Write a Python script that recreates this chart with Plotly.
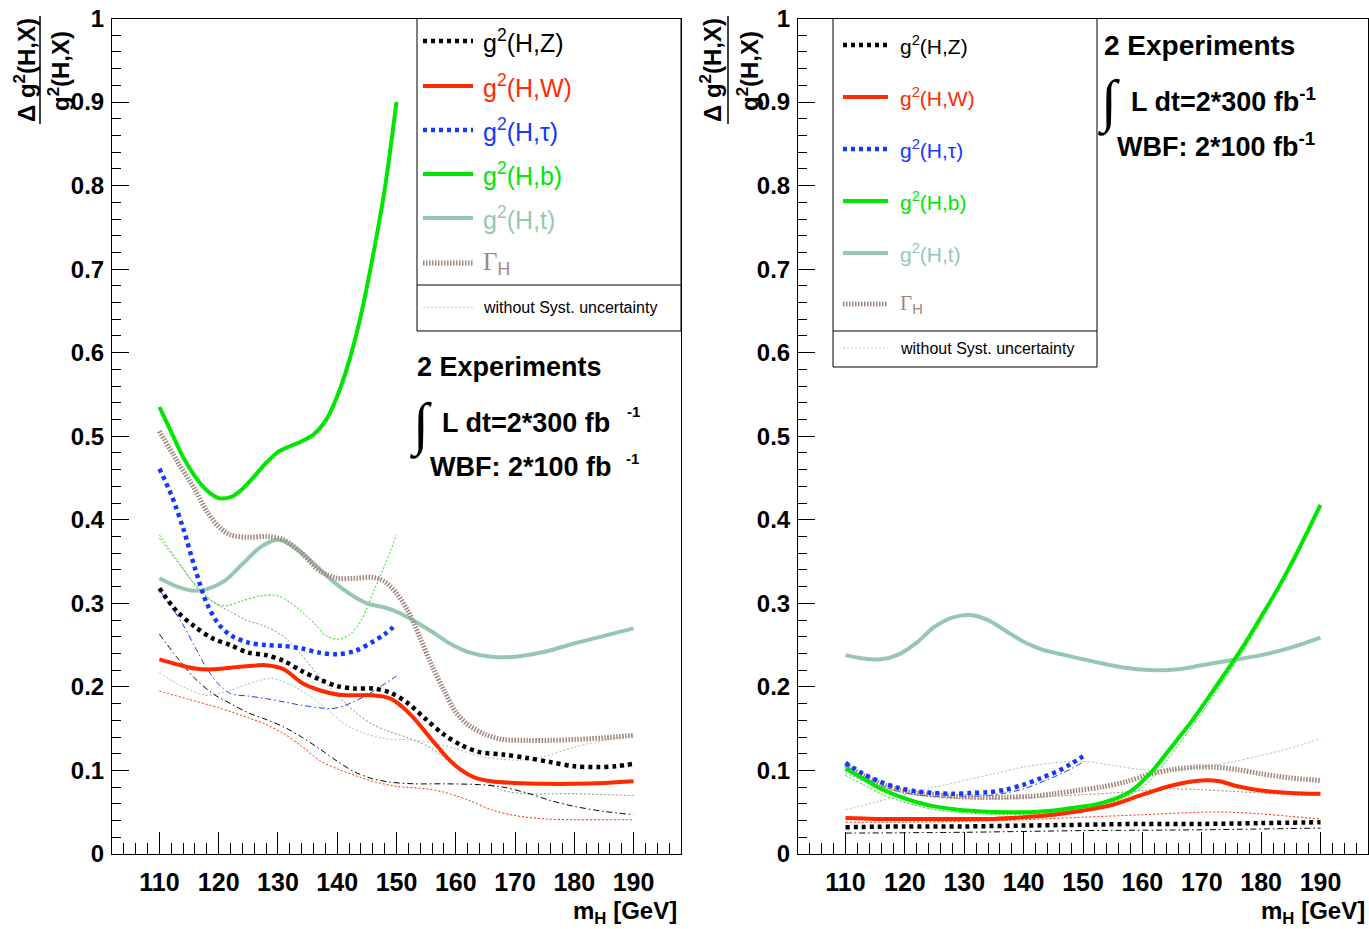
import plotly.graph_objects as go

W, H = 1369, 929

# ---------------- data: left panel (with syst.) ----------------
m_b_l = [110, 112, 114, 116, 118, 120, 122, 124, 126, 128, 130, 132, 134, 136, 138, 140, 142, 144, 146, 148, 150]
b_l = [0.535, 0.505, 0.475, 0.452, 0.435, 0.426, 0.427, 0.437, 0.452, 0.468, 0.481, 0.488, 0.494, 0.502, 0.518, 0.548, 0.590, 0.645, 0.715, 0.795, 0.900]

m_t_l = [110, 113, 116, 118, 121, 124, 127, 130, 133, 136, 139, 142, 145, 148, 150, 153, 156, 159, 162, 166, 170, 175, 180, 185, 190]
t_l = [0.330, 0.320, 0.315, 0.317, 0.327, 0.347, 0.367, 0.376, 0.366, 0.348, 0.328, 0.312, 0.300, 0.295, 0.290, 0.279, 0.266, 0.252, 0.242, 0.236, 0.236, 0.242, 0.252, 0.261, 0.270]

m_g_l = [110, 113, 116, 118, 120, 122, 125, 128, 131, 134, 137, 140, 143, 146, 148, 150, 152, 154, 156, 158, 160, 162, 165, 168, 172, 176, 180, 185, 190]
g_l = [0.506, 0.470, 0.436, 0.410, 0.392, 0.382, 0.379, 0.380, 0.376, 0.360, 0.339, 0.330, 0.330, 0.331, 0.326, 0.312, 0.290, 0.258, 0.225, 0.196, 0.170, 0.155, 0.143, 0.137, 0.136, 0.136, 0.137, 0.139, 0.142]

m_z_l = [110, 113, 116, 119, 122, 125, 128, 131, 134, 137, 140, 143, 146, 149, 152, 155, 158, 161, 164, 168, 172, 176, 180, 184, 187, 190]
z_l = [0.318, 0.290, 0.272, 0.258, 0.250, 0.241, 0.238, 0.231, 0.219, 0.209, 0.201, 0.198, 0.198, 0.193, 0.180, 0.161, 0.143, 0.130, 0.122, 0.119, 0.115, 0.110, 0.105, 0.104, 0.105, 0.108]

m_w_l = [110, 113, 116, 119, 122, 125, 128, 131, 134, 137, 140, 143, 146, 149, 151, 153, 155, 157, 159, 161, 163, 166, 170, 175, 180, 185, 190]
w_l = [0.233, 0.227, 0.222, 0.221, 0.223, 0.225, 0.226, 0.221, 0.205, 0.196, 0.191, 0.190, 0.190, 0.186, 0.176, 0.162, 0.145, 0.128, 0.112, 0.100, 0.092, 0.087, 0.085, 0.084, 0.084, 0.085, 0.087]

m_tau_l = [110, 112, 114, 116, 118, 120, 122, 125, 128, 131, 134, 137, 140, 143, 146, 148, 150]
tau_l = [0.461, 0.430, 0.390, 0.342, 0.300, 0.275, 0.262, 0.253, 0.250, 0.249, 0.246, 0.241, 0.239, 0.243, 0.254, 0.263, 0.275]

# ---------------- data: left panel (without syst.) ----------------
m_b_l0 = [110, 113, 116, 119, 121, 124, 127, 130, 133, 136, 138, 140, 142, 144, 146, 148, 150]
b_l0 = [0.382, 0.352, 0.322, 0.302, 0.297, 0.303, 0.309, 0.309, 0.296, 0.277, 0.262, 0.257, 0.262, 0.279, 0.312, 0.345, 0.382]

m_g_l0 = [110, 113, 116, 119, 122, 125, 128, 131, 134, 137, 140, 143, 146, 149, 152, 156, 160, 164, 168, 172, 176, 180, 185, 190]
g_l0 = [0.378, 0.350, 0.323, 0.302, 0.290, 0.279, 0.272, 0.260, 0.238, 0.212, 0.190, 0.170, 0.155, 0.146, 0.139, 0.126, 0.105, 0.090, 0.076, 0.072, 0.072, 0.072, 0.071, 0.070]

m_t_l0 = [110, 114, 118, 122, 126, 129, 132, 135, 138, 141, 144, 148, 152, 156, 160, 164, 168, 172, 176, 180, 185, 190]
t_l0 = [0.217, 0.200, 0.190, 0.196, 0.206, 0.210, 0.203, 0.191, 0.175, 0.157, 0.146, 0.138, 0.137, 0.133, 0.126, 0.117, 0.113, 0.113, 0.119, 0.128, 0.136, 0.142]

m_w_l0 = [110, 115, 120, 125, 128, 131, 134, 137, 140, 143, 146, 150, 155, 158, 162, 166, 170, 175, 180, 185, 190]
w_l0 = [0.195, 0.185, 0.175, 0.163, 0.155, 0.144, 0.129, 0.112, 0.102, 0.094, 0.087, 0.081, 0.078, 0.074, 0.065, 0.053, 0.046, 0.042, 0.041, 0.041, 0.041]

m_z_l0 = [110, 113, 116, 119, 122, 125, 128, 131, 134, 137, 140, 143, 146, 149, 153, 158, 164, 168, 172, 176, 180, 185, 190]
z_l0 = [0.263, 0.235, 0.210, 0.192, 0.180, 0.169, 0.161, 0.152, 0.140, 0.126, 0.111, 0.098, 0.090, 0.086, 0.084, 0.084, 0.083, 0.080, 0.073, 0.064, 0.057, 0.051, 0.047]

m_tau_l0 = [110, 112, 114, 116, 118, 120, 122, 125, 128, 131, 134, 137, 139, 141, 143, 145, 147, 150]
tau_l0 = [0.316, 0.296, 0.274, 0.248, 0.222, 0.203, 0.192, 0.189, 0.186, 0.182, 0.178, 0.175, 0.174, 0.177, 0.183, 0.190, 0.199, 0.213]

# ---------------- data: right panel (with syst.) ----------------
m_t_r = [110, 113, 116, 119, 122, 125, 128, 131, 134, 137, 140, 143, 147, 152, 157, 162, 166, 170, 175, 180, 185, 190]
t_r = [0.238, 0.234, 0.233, 0.239, 0.253, 0.272, 0.283, 0.286, 0.280, 0.267, 0.254, 0.245, 0.238, 0.230, 0.223, 0.220, 0.221, 0.226, 0.232, 0.238, 0.247, 0.259]

m_b_r = [110, 113, 116, 119, 122, 125, 129, 133, 137, 141, 145, 149, 152, 155, 158, 160, 162, 164, 166, 168, 171, 174, 177, 180, 183, 186, 190]
b_r = [0.102, 0.090, 0.078, 0.069, 0.062, 0.057, 0.053, 0.051, 0.050, 0.050, 0.052, 0.056, 0.059, 0.065, 0.075, 0.087, 0.102, 0.120, 0.138, 0.156, 0.186, 0.217, 0.249, 0.284, 0.320, 0.360, 0.418]

m_w_r = [110, 115, 120, 125, 130, 135, 140, 145, 150, 155, 160, 165, 170, 173, 176, 180, 185, 190]
w_r = [0.043, 0.042, 0.042, 0.042, 0.042, 0.042, 0.044, 0.047, 0.052, 0.059, 0.071, 0.082, 0.088, 0.087, 0.081, 0.076, 0.073, 0.072]

m_tau_r = [110, 113, 116, 119, 122, 125, 128, 131, 134, 137, 140, 143, 146, 148, 150]
tau_r = [0.109, 0.096, 0.086, 0.079, 0.075, 0.073, 0.072, 0.073, 0.074, 0.077, 0.083, 0.091, 0.100, 0.108, 0.117]

m_g_r = [110, 113, 116, 119, 122, 125, 129, 133, 137, 141, 145, 149, 153, 157, 161, 165, 169, 172, 176, 180, 185, 190]
g_r = [0.107, 0.094, 0.084, 0.077, 0.073, 0.071, 0.069, 0.068, 0.068, 0.069, 0.072, 0.076, 0.080, 0.086, 0.095, 0.101, 0.104, 0.104, 0.101, 0.096, 0.091, 0.088]

m_z_r = [110, 120, 130, 140, 150, 160, 170, 180, 190]
z_r = [0.032, 0.033, 0.033, 0.034, 0.035, 0.036, 0.036, 0.037, 0.038]

# ---------------- data: right panel (without syst.) ----------------
m_t_r0 = [110, 115, 120, 125, 130, 135, 140, 145, 150, 155, 160, 165, 170, 175, 180, 185, 190]
t_r0 = [0.053, 0.062, 0.071, 0.080, 0.088, 0.096, 0.104, 0.109, 0.111, 0.106, 0.101, 0.101, 0.104, 0.110, 0.118, 0.127, 0.138]

m_b_r0 = [110, 113, 116, 119, 122, 125, 129, 133, 137, 141, 145, 149, 152, 155, 158, 160, 162, 164, 166, 168, 171, 174, 177, 180, 183, 186, 190]
b_r0 = [0.094, 0.083, 0.072, 0.064, 0.058, 0.053, 0.050, 0.048, 0.047, 0.048, 0.050, 0.053, 0.056, 0.062, 0.071, 0.080, 0.093, 0.111, 0.130, 0.149, 0.179, 0.211, 0.244, 0.280, 0.317, 0.357, 0.415]

m_g_r0 = [110, 115, 120, 125, 130, 135, 140, 145, 150, 155, 160, 165, 170, 175, 180, 185, 190]
g_r0 = [0.097, 0.082, 0.073, 0.068, 0.066, 0.066, 0.067, 0.069, 0.071, 0.073, 0.076, 0.078, 0.077, 0.075, 0.073, 0.071, 0.070]

m_w_r0 = [110, 120, 130, 140, 150, 160, 170, 175, 180, 185, 190]
w_r0 = [0.038, 0.038, 0.039, 0.041, 0.044, 0.047, 0.050, 0.050, 0.048, 0.045, 0.042]

m_z_r0 = [110, 130, 150, 170, 190]
z_r0 = [0.025, 0.026, 0.028, 0.029, 0.031]

m_tau_r0 = [110, 113, 116, 119, 122, 125, 128, 131, 134, 137, 140, 143, 146, 148, 150]
tau_r0 = [0.106, 0.092, 0.082, 0.075, 0.071, 0.069, 0.068, 0.069, 0.070, 0.073, 0.078, 0.086, 0.095, 0.102, 0.110]

x_tick_vals = [110, 120, 130, 140, 150, 160, 170, 180, 190]
legend_labels = ["g<sup>2</sup>(H,Z)", "g<sup>2</sup>(H,W)", "g<sup>2</sup>(H,τ)",
                 "g<sup>2</sup>(H,b)", "g<sup>2</sup>(H,t)",
                 "<span style='font-family:Liberation Serif'>Γ</span><sub>H</sub>"]

# ---------------- styles ----------------
C_Z, C_W, C_TAU, C_B, C_T, C_G = "#000000", "#ff2a00", "#1438ff", "#00e600", "#96c8b0", "#a0857a"
S_Z = dict(color=C_Z, width=4.5, dash="4px,4px")
S_W = dict(color=C_W, width=4)
S_TAU = dict(color=C_TAU, width=4.5, dash="4px,4px")
S_B = dict(color=C_B, width=4)
S_T = dict(color=C_T, width=4)
S_G = dict(color=C_G, width=5, dash="1.5px,1.5px")
def thin(c):
    return dict(color=c, width=1, dash="2px,2px")
def thindd(c):
    return dict(color=c, width=1, dash="6px,3px,1.5px,3px")

FONT = "Liberation Sans, Arial, Helvetica, sans-serif"

fig = go.Figure()

def add(x, y, style, ax):
    fig.add_trace(go.Scatter(x=x, y=y, mode="lines", line=dict(shape="spline", smoothing=0.9, **style),
                             xaxis="x" if ax == 1 else "x2", yaxis="y" if ax == 1 else "y2",
                             showlegend=False, hoverinfo="skip"))

# left: thin first
add(m_b_l0, b_l0, thin(C_B), 1)
add(m_g_l0, g_l0, thin(C_G), 1)
add(m_t_l0, t_l0, thin(C_T), 1)
add(m_w_l0, w_l0, thin(C_W), 1)
add(m_z_l0, z_l0, thindd(C_Z), 1)
add(m_tau_l0, tau_l0, thindd(C_TAU), 1)
add(m_t_l, t_l, S_T, 1)
add(m_g_l, g_l, S_G, 1)
add(m_b_l, b_l, S_B, 1)
add(m_w_l, w_l, S_W, 1)
add(m_tau_l, tau_l, S_TAU, 1)
add(m_z_l, z_l, S_Z, 1)

# right
add(m_t_r0, t_r0, thin(C_T), 2)
add(m_b_r0, b_r0, thin(C_B), 2)
add(m_g_r0, g_r0, thin(C_G), 2)
add(m_w_r0, w_r0, thin(C_W), 2)
add(m_z_r0, z_r0, thindd(C_Z), 2)
add(m_tau_r0, tau_r0, thindd(C_TAU), 2)
add(m_t_r, t_r, S_T, 2)
add(m_g_r, g_r, S_G, 2)
add(m_w_r, w_r, S_W, 2)
add(m_b_r, b_r, S_B, 2)
add(m_tau_r, tau_r, S_TAU, 2)
add(m_z_r, z_r, S_Z, 2)

def xp(px):
    return px / W
def yp(py):
    return 1 - py / H

ydom = [yp(854), yp(18.5)]
xcommon = dict(range=[102, 198], tickvals=x_tick_vals, ticks="inside", ticklen=22, tickwidth=1, tickcolor="black",
               showline=True, linecolor="black", linewidth=1, mirror=True, showgrid=False, zeroline=False,
               automargin=False,
               tickfont=dict(family=FONT, size=25, color="black", weight="bold"), ticklabelstandoff=6,
               minor=dict(dtick=2, tick0=0, ticks="inside", ticklen=11, tickcolor="black", tickwidth=1, showgrid=False))
ycommon = dict(range=[0, 1], dtick=0.1, tick0=0, ticks="inside", ticklen=17, tickwidth=1, tickcolor="black",
               showline=True, linecolor="black", linewidth=1, mirror=True, showgrid=False, zeroline=False,
               automargin=False,
               tickfont=dict(family=FONT, size=24, color="black", weight="bold"), ticklabelstandoff=2,
               minor=dict(dtick=0.02, tick0=0, ticks="inside", ticklen=9, tickcolor="black", tickwidth=1, showgrid=False))

fig.update_layout(
    width=W, height=H, margin=dict(l=0, r=0, t=0, b=0, autoexpand=False),
    paper_bgcolor="white", plot_bgcolor="white",
    xaxis=dict(domain=[xp(112), xp(681)], anchor="y", **xcommon),
    yaxis=dict(domain=ydom, anchor="x", **ycommon),
    xaxis2=dict(domain=[xp(798), xp(1368)], anchor="y2", **xcommon),
    yaxis2=dict(domain=ydom, anchor="x2", **ycommon),
    showlegend=False,
)

shapes = []
annots = []

def text(px, py, s, size, color="black", bold=False, xanchor="left", angle=0, family=FONT):
    annots.append(dict(x=xp(px), y=yp(py), xref="paper", yref="paper", text=s, showarrow=False,
                       xanchor=xanchor, yanchor="middle", textangle=angle,
                       font=dict(family=family, size=size, color=color, weight="bold" if bold else "normal")))

def legend(x0, x1, y0, ydiv, y1, rows_y, nosys_y, lx0, lx1, tx, fsize):
    shapes.append(dict(type="rect", xref="paper", yref="paper", x0=xp(x0), x1=xp(x1), y0=yp(y1), y1=yp(y0),
                       line=dict(color="black", width=1), fillcolor="white", layer="above"))
    shapes.append(dict(type="line", xref="paper", yref="paper", x0=xp(x0), x1=xp(x1), y0=yp(ydiv), y1=yp(ydiv),
                       line=dict(color="black", width=1), layer="above"))
    styles = [S_Z, S_W, S_TAU, S_B, S_T, S_G]
    colors = [C_Z, C_W, C_TAU, C_B, C_T, C_G]
    for lab, st, col, ry in zip(legend_labels, styles, colors, rows_y):
        shapes.append(dict(type="line", xref="paper", yref="paper", x0=xp(lx0), x1=xp(lx1), y0=yp(ry), y1=yp(ry),
                           line=st, layer="above"))
        text(tx, ry, lab, fsize, color=col)
    shapes.append(dict(type="line", xref="paper", yref="paper", x0=xp(lx0), x1=xp(lx1), y0=yp(nosys_y), y1=yp(nosys_y),
                       line=dict(color="#c8c8c8", width=1, dash="2px,2px"), layer="above"))
    text(tx, nosys_y, "without Syst. uncertainty", 16)

legend(417, 681, 18.5, 285, 331, [41, 86, 130, 174, 218, 263], 307, 423, 473, 481, 25)
legend(833, 1097, 18.5, 331, 367, [45, 97, 149, 201, 253, 304], 348, 843, 888, 898, 21)

# y-axis titles (fractions)
for nx, bx, dx in [(25, 40, 59), (711, 728, 748)]:
    text(nx, 70, "<b>Δ g<sup>2</sup>(H,X)</b>", 24, xanchor="center", angle=-90)
    text(dx, 71, "<b>g<sup>2</sup>(H,X)</b>", 24, xanchor="center", angle=-90)
    shapes.append(dict(type="line", xref="paper", yref="paper", x0=xp(bx), x1=xp(bx), y0=yp(16), y1=yp(124),
                       line=dict(color="black", width=1.5)))

# x-axis titles
text(679, 912, "<b>m<sub>H</sub> [GeV]</b>", 24, xanchor="right")
text(1367, 912, "<b>m<sub>H</sub> [GeV]</b>", 24, xanchor="right")

# luminosity text, left
text(415, 367, "<b>2 Experiments</b>", 27)
text(420, 425, "∫", 58, xanchor="center", family="Liberation Serif, Times New Roman, serif")
text(440, 423, "<b>L dt=2*300 fb</b>", 27)
text(625, 411, "<b>-1</b>", 15)
text(428, 467, "<b>WBF: 2*100 fb</b>", 27)
text(624, 458, "<b>-1</b>", 15)

# luminosity text, right
text(1102, 45, "<b>2 Experiments</b>", 28)
text(1108, 102, "∫", 58, xanchor="center", family="Liberation Serif, Times New Roman, serif")
text(1129, 100, "<b>L dt=2*300 fb<sup>-1</sup></b>", 27)
text(1115, 145, "<b>WBF: 2*100 fb<sup>-1</sup></b>", 27)

fig.update_layout(shapes=shapes, annotations=annots)
fig.write_html("out.html")
